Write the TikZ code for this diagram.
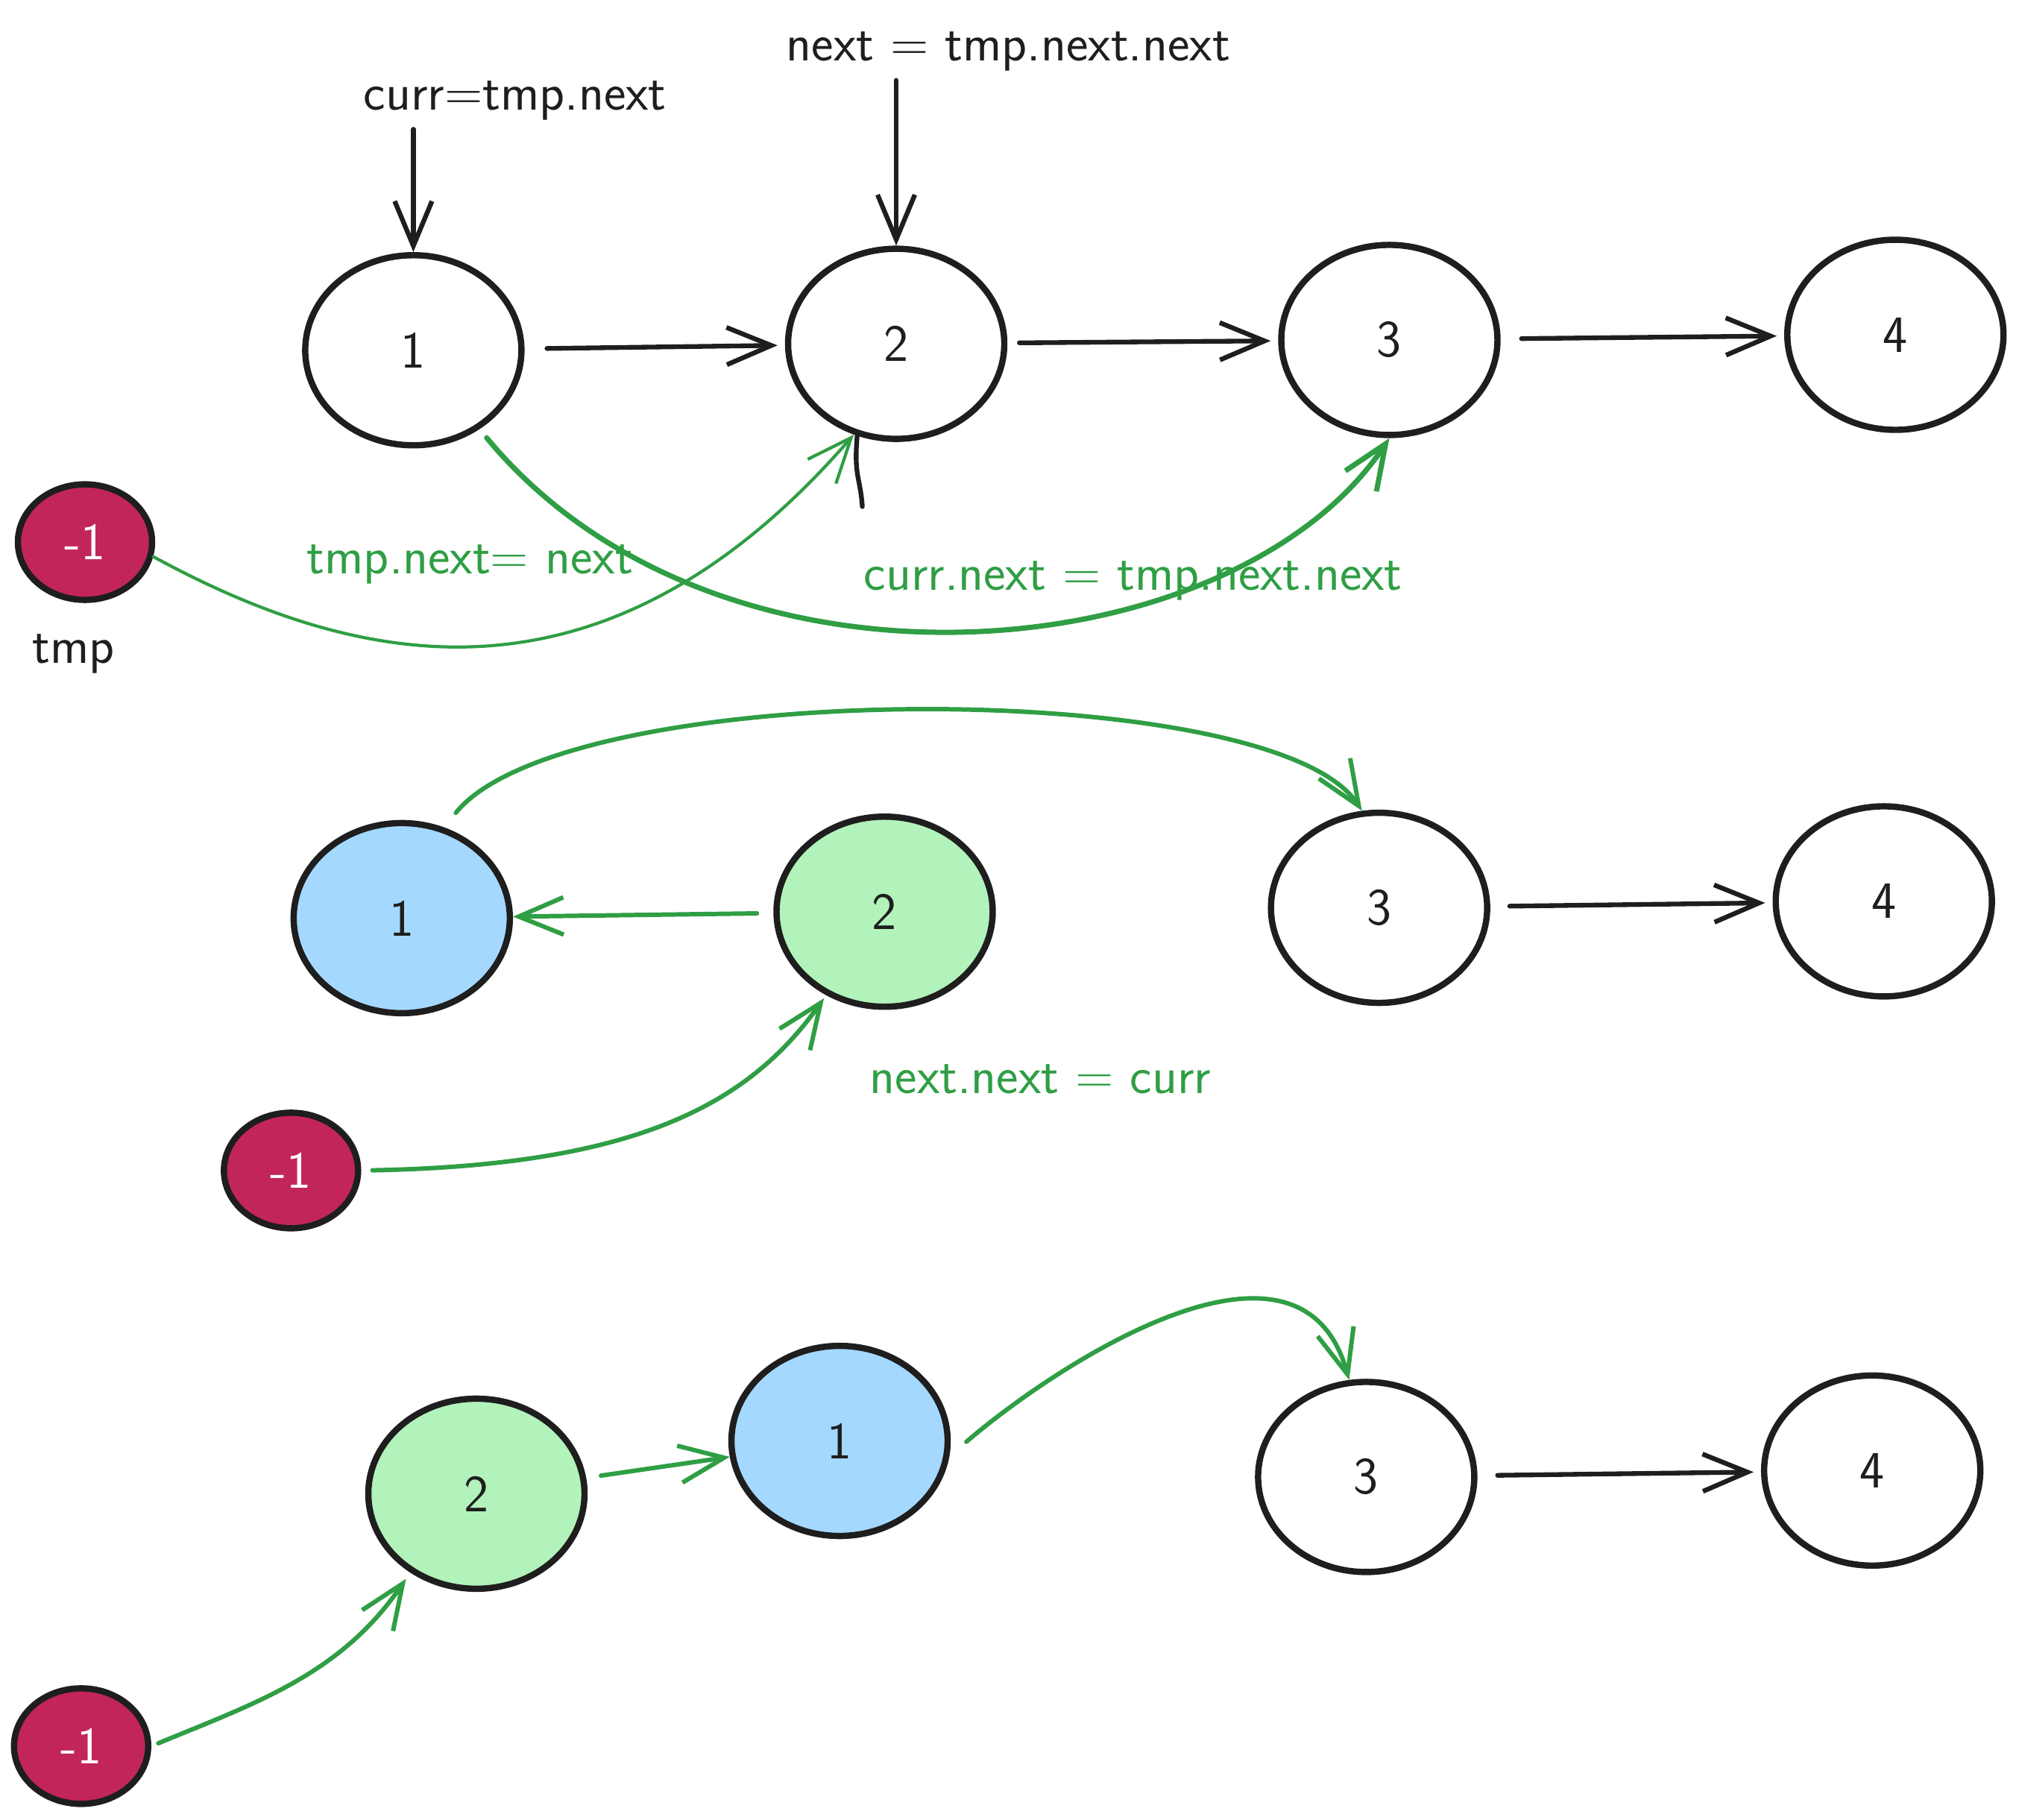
\documentclass[tikz,border=0pt]{standalone}
\usepackage{fontspec}
\usepackage{tikz}
\usetikzlibrary{shapes.geometric, arrows.meta, calc}
\usepackage{xcolor}
\definecolor{inkcolor}{HTML}{1E1E1E}
\definecolor{linkgreen}{HTML}{2F9E44}
\definecolor{tmpcolor}{HTML}{C2255C}
\definecolor{currcolor}{HTML}{A5D8FF}
\definecolor{nextcolor}{HTML}{B2F2BB}

\begin{document}
\begin{tikzpicture}[
    x=0.01727cm, y=-0.01727cm,
    listnode/.style={ellipse, draw=inkcolor, line width=2.4pt, minimum width=2.9cm, minimum height=2.55cm, text=inkcolor, font=\sffamily\fontsize{20}{24}\selectfont},
    tmpnode/.style={ellipse, draw=inkcolor, fill=tmpcolor, line width=2.4pt, minimum width=1.8cm, minimum height=1.55cm, text=white, font=\sffamily\fontsize{20}{24}\selectfont},
    note/.style={text=inkcolor, font=\sffamily\fontsize{20}{24}\selectfont},
    greennote/.style={note, text=linkgreen},
    arrow/.style={-{Straight Barb[length=6mm, width=5mm]}, line width=1.8pt, draw=inkcolor, line cap=round},
    greenarrow/.style={arrow, draw=linkgreen, line width=1.7pt},
    thinarrow/.style={greenarrow, line width=1.2pt}
]
    \useasboundingbox (0,0) rectangle (1568,1413);

    % Step 1: pointers before the swap
    \node[tmpnode] (t1) at (66,421) {-1};
    \node[listnode] (a1) at (321,272) {1};
    \node[listnode] (a2) at (696,267) {2};
    \node[listnode] (a3) at (1079,264) {3};
    \node[listnode] (a4) at (1472,260) {4};

    \node[note] (currlbl) at (400,78) {curr=tmp.next};
    \node[note] (nextlbl) at (783,40) {next = tmp.next.next};
    \node[note] (tmplbl) at (57,508) {tmp};
    \node[greennote] (movelbl) at (365,438) {tmp.next= next};
    \node[greennote] (skiplbl) at (880,451) {curr.next = tmp.next.next};

    \draw[arrow] (currlbl.south -| a1.north) -- (a1.north);
    \draw[arrow] (nextlbl.south -| a2.north) -- (a2.north);
    \draw[arrow, shorten <=0.3cm, shorten >=0.1cm] (a1) -- (a2);
    \draw[arrow, shorten <=0.16cm, shorten >=0.1cm] (a2) -- (a3);
    \draw[arrow, shorten <=0.28cm, shorten >=0.1cm] (a3) -- (a4);

    \draw[thinarrow] (t1.-12) .. controls (280,520) and (470,560) .. (a2.-115);
    \draw[inkcolor, line width=1.8pt, line cap=round] (a2.-113) .. controls (663,370) and (668,370) .. ++(4,55);
    \draw[greenarrow, line width=2pt, shorten <=0.15cm] (a1.-50) .. controls (560,560) and (960,520) .. (a3.-90);

    % Step 2: next points back to curr
    \node[listnode, fill=currcolor] (b1) at (312,713) {1};
    \node[listnode, fill=nextcolor] (b2) at (687,708) {2};
    \node[listnode] (b3) at (1071,705) {3};
    \node[listnode] (b4) at (1463,700) {4};
    \node[tmpnode] (t2) at (226,909) {-1};
    \node[greennote] (backlbl) at (808,838) {next.next = curr};

    \draw[greenarrow, shorten <=0.22cm] (b2) -- (b1);
    \draw[arrow, shorten <=0.26cm, shorten >=0.1cm] (b3) -- (b4);
    \draw[greenarrow, shorten <=0.25cm] (b1.65) .. controls (440,525) and (990,525) .. (b3.100);
    \draw[greenarrow, shorten <=0.15cm, shorten >=0.05cm] (t2.east) .. controls (490,905) and (580,860) .. (b2.-125);

    % Step 3: after the swap
    \node[listnode, fill=nextcolor] (c2) at (370,1160) {2};
    \node[listnode, fill=currcolor] (c1) at (652,1119) {1};
    \node[listnode] (c3) at (1061,1147) {3};
    \node[listnode] (c4) at (1454,1142) {4};
    \node[tmpnode] (t3) at (63,1356) {-1};

    \draw[greenarrow, shorten <=0.2cm] (c2) -- (c1);
    \draw[greenarrow, shorten <=0.3cm] (c1.-8) .. controls (820,1060) and (1010,935) .. (c3.100);
    \draw[arrow, shorten <=0.27cm, shorten >=0.1cm] (c3) -- (c4);
    \draw[greenarrow, shorten <=0.1cm, shorten >=0.1cm] (t3.east) .. controls (200,1322) and (265,1300) .. (c2.-130);
\end{tikzpicture}
\end{document}
